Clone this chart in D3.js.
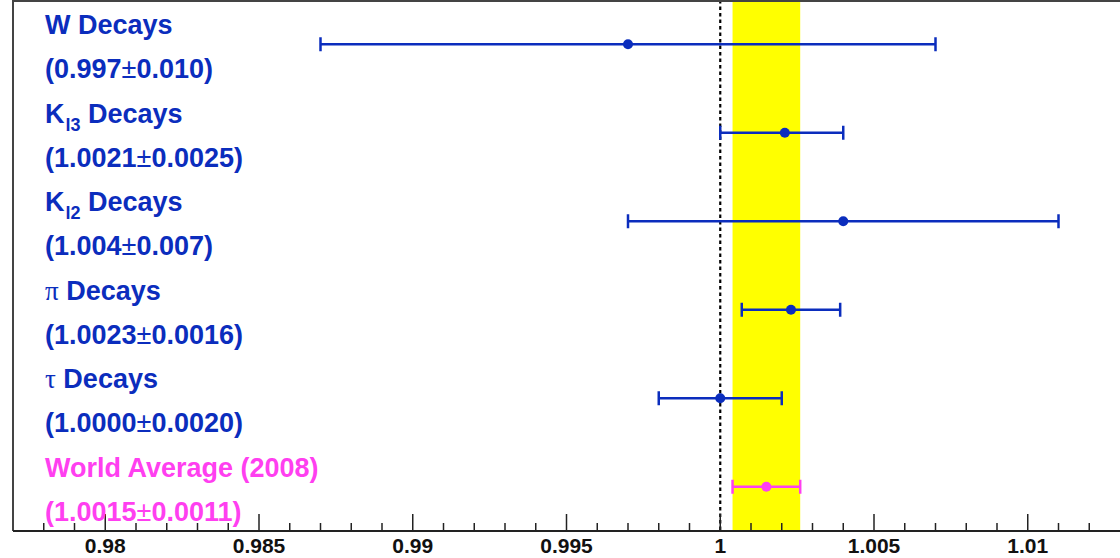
<!DOCTYPE html>
<html>
<head>
<meta charset="utf-8">
<script src="https://cdn.jsdelivr.net/npm/d3@7"></script>
<style>
  html, body { margin: 0; padding: 0; background: #fff; }
  svg { display: block; }
</style>
</head>
<body>
<div id="chart"></div>
<script>
// ---------- data ----------
const categories = ["W", "Kl3", "Kl2", "pi", "tau", "WA"];
const labelHead  = ["W", "K", "K", "π", "τ", "World Average (2008)"];
const labelSub   = ["", "l3", "l2", "", "", ""];
const labelTail  = [" Decays", " Decays", " Decays", " Decays", " Decays", ""];
const centralText = ["(0.997", "(1.0021", "(1.004", "(1.0023", "(1.0000", "(1.0015"];
const errorText   = ["0.010)", "0.0025)", "0.007)", "0.0016)", "0.0020)", "0.0011)"];
const values   = [0.997, 1.0021, 1.004, 1.0023, 1.0000, 1.0015];
const errLow   = [0.010, 0.0021, 0.007, 0.0016, 0.0020, 0.0011];
const errHigh  = [0.010, 0.0019, 0.007, 0.0016, 0.0020, 0.0011];
const isAverage = [false, false, false, false, false, true];
const bandCenter = 1.0015, bandHalf = 0.0011;
const xDomain = [0.977, 1.013];
const majorTicks = [0.98, 0.985, 0.99, 0.995, 1, 1.005, 1.01];
const majorTickLabels = ["0.98", "0.985", "0.99", "0.995", "1", "1.005", "1.01"];
const minorTicks = [0.978,0.979,0.981,0.982,0.983,0.984,0.986,0.987,0.988,0.989,0.991,0.992,0.993,0.994,
                    0.996,0.997,0.998,0.999,1.001,1.002,1.003,1.004,1.006,1.007,1.008,1.009,1.011,1.012];

// ---------- layout ----------
const W = 1120, H = 558;
const mLeft = 13, mRight = 1120, mTop = 0, mBottom = 531;
const blue = "#0b2dbd", magenta = "#ff3ff0";
const font = "'Liberation Sans', Arial, sans-serif";

const svg = d3.select("#chart").append("svg").attr("width", W).attr("height", H);

const x = d3.scaleLinear().domain(xDomain).range([mLeft, mRight]);
const y = d3.scaleBand().domain(categories).range([mTop, mBottom]).padding(0);
const yc = c => y(c) + y.bandwidth() / 2;

// yellow band
svg.append("rect")
  .attr("x", x(bandCenter - bandHalf)).attr("y", mTop)
  .attr("width", x(bandCenter + bandHalf) - x(bandCenter - bandHalf))
  .attr("height", mBottom - mTop)
  .attr("fill", "#ffff00");

// dashed line at 1
svg.append("line")
  .attr("x1", x(1)).attr("x2", x(1)).attr("y1", mTop).attr("y2", mBottom)
  .attr("stroke", "#000").attr("stroke-width", 2.2).attr("stroke-dasharray", "3.5,3");

// frame
svg.append("line").attr("x1", mLeft).attr("x2", mRight).attr("y1", mTop + 1).attr("y2", mTop + 1)
  .attr("stroke", "#444").attr("stroke-width", 2);
svg.append("line").attr("x1", mLeft).attr("x2", mLeft).attr("y1", mTop).attr("y2", mBottom)
  .attr("stroke", "#444").attr("stroke-width", 2);

// axis
const axisG = svg.append("g").attr("transform", `translate(0,${mBottom})`);
axisG.append("line").attr("x1", mLeft).attr("x2", mRight).attr("y1", 0).attr("y2", 0)
  .attr("stroke", "#222").attr("stroke-width", 2);
axisG.selectAll(".minor").data(minorTicks).enter().append("line")
  .attr("x1", d => x(d)).attr("x2", d => x(d)).attr("y1", 0).attr("y2", -8)
  .attr("stroke", "#222").attr("stroke-width", 1.5);
axisG.selectAll(".major").data(majorTicks).enter().append("line")
  .attr("x1", d => x(d)).attr("x2", d => x(d)).attr("y1", 0).attr("y2", -17)
  .attr("stroke", "#222").attr("stroke-width", 1.5);
axisG.selectAll(".tl").data(majorTicks).enter().append("text")
  .attr("x", d => x(d)).attr("y", 22)
  .attr("text-anchor", "middle")
  .attr("font-family", font).attr("font-weight", "bold").attr("font-size", 21)
  .attr("fill", "#111")
  .text((d, i) => majorTickLabels[i]);

// error bars
const rows = categories.map((c, i) => ({
  c, v: values[i], lo: values[i] - errLow[i], hi: values[i] + errHigh[i],
  col: isAverage[i] ? magenta : blue
}));
const g = svg.append("g");
g.selectAll(".eb").data(rows).enter().append("line")
  .attr("x1", d => x(d.lo)).attr("x2", d => x(d.hi))
  .attr("y1", d => yc(d.c)).attr("y2", d => yc(d.c))
  .attr("stroke", d => d.col).attr("stroke-width", 2.5);
g.selectAll(".capl").data(rows).enter().append("line")
  .attr("x1", d => x(d.lo)).attr("x2", d => x(d.lo))
  .attr("y1", d => yc(d.c) - 7).attr("y2", d => yc(d.c) + 7)
  .attr("stroke", d => d.col).attr("stroke-width", 2.5);
g.selectAll(".caph").data(rows).enter().append("line")
  .attr("x1", d => x(d.hi)).attr("x2", d => x(d.hi))
  .attr("y1", d => yc(d.c) - 7).attr("y2", d => yc(d.c) + 7)
  .attr("stroke", d => d.col).attr("stroke-width", 2.5);
g.selectAll(".dot").data(rows).enter().append("circle")
  .attr("cx", d => x(d.v)).attr("cy", d => yc(d.c)).attr("r", 5)
  .attr("fill", d => d.col);

// labels
const lab = svg.append("g");
categories.forEach((c, i) => {
  const col = isAverage[i] ? magenta : blue;
  const t1 = lab.append("text")
    .attr("x", 45).attr("y", yc(c) - 10)
    .attr("font-family", font).attr("font-weight", "bold").attr("font-size", 27)
    .attr("fill", col);
  const greek = labelHead[i] === "π" || labelHead[i] === "τ";
  t1.append("tspan").text(labelHead[i])
    .attr("font-weight", greek ? "normal" : "bold")
    .attr("font-family", greek ? "'Liberation Serif', 'DejaVu Serif', serif" : font);
  if (labelSub[i]) {
    t1.append("tspan").text(labelSub[i]).attr("font-size", 18).attr("dy", 8).attr("dx", 1);
    t1.append("tspan").text(labelTail[i]).attr("dy", -8);
  } else {
    t1.append("tspan").text(labelTail[i]);
  }
  const t2 = lab.append("text")
    .attr("x", 45).attr("y", yc(c) + 34)
    .attr("font-family", font).attr("font-weight", "bold").attr("font-size", 27)
    .attr("fill", col);
  t2.append("tspan").text(centralText[i]);
  t2.append("tspan").text("±").attr("font-weight", "normal");
  t2.append("tspan").text(errorText[i]);
});
</script>
</body>
</html>
